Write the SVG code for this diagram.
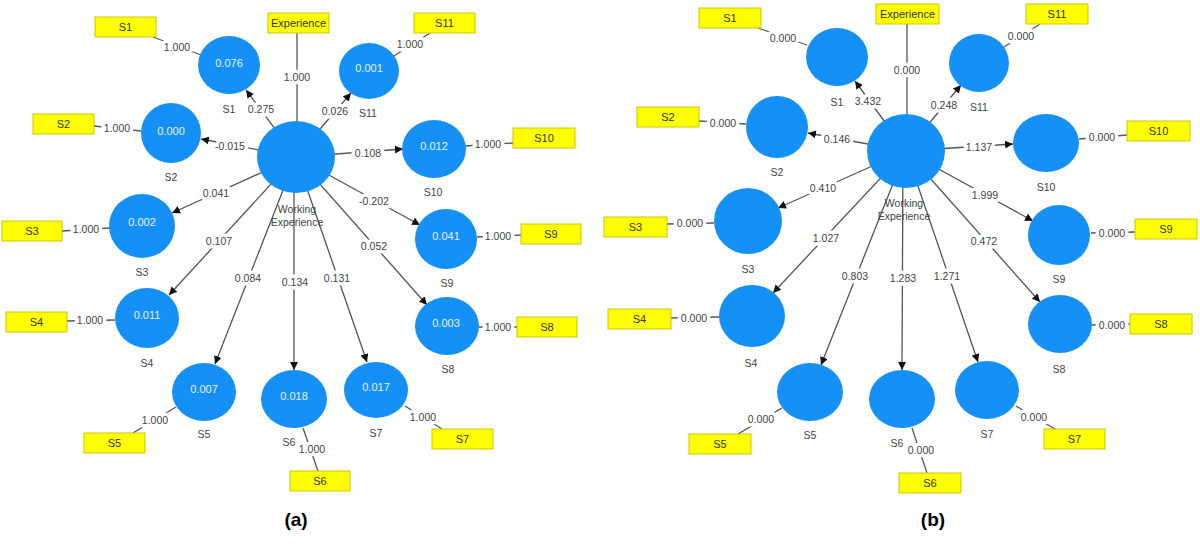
<svg xmlns="http://www.w3.org/2000/svg" width="1200" height="547" viewBox="0 0 1200 547">
<style>
.bx{fill:#ffff00;stroke:#c9c900;stroke-width:1}
.bt{font-family:"Liberation Sans",Arial,sans-serif;font-size:11px;fill:#333;text-anchor:middle;dominant-baseline:central}
.ci{fill:#1590f6}
.ct{font-family:"Liberation Sans",Arial,sans-serif;font-size:11px;fill:#e8f2ff;text-anchor:middle;dominant-baseline:central}
.nl{font-family:"Liberation Sans",Arial,sans-serif;font-size:10.5px;fill:#444;text-anchor:middle;dominant-baseline:central}
.ln{stroke:#555;stroke-width:1.3;fill:none}
.ar{stroke:#555;stroke-width:1.3;fill:none;marker-end:url(#ah)}
.lb{font-family:"Liberation Sans",Arial,sans-serif;font-size:10.5px;fill:#444;text-anchor:middle;dominant-baseline:central;stroke:#fff;stroke-width:7;stroke-linejoin:round;paint-order:stroke}
.cap{font-family:"Liberation Sans",Arial,sans-serif;font-size:19px;font-weight:bold;fill:#000;text-anchor:middle}
</style>
<defs>
<marker id="ah" viewBox="0 0 10 10" refX="10" refY="5" markerWidth="8" markerHeight="8" markerUnits="userSpaceOnUse" orient="auto">
<path d="M0,0 L10,5 L0,10 z" fill="#111"/>
</marker>
</defs>

<g id="connectors">
<!-- left: hub arrows -->
<line class="ar" x1="296" y1="157" x2="246" y2="90"/>
<line class="ar" x1="296" y1="157" x2="351" y2="93"/>
<line class="ar" x1="296" y1="157" x2="201" y2="139"/>
<line class="ar" x1="296" y1="157" x2="403" y2="149"/>
<line class="ar" x1="296" y1="157" x2="172" y2="213"/>
<line class="ar" x1="296" y1="157" x2="169" y2="295"/>
<line class="ar" x1="296" y1="157" x2="215" y2="364"/>
<line class="ar" x1="294" y1="157" x2="294" y2="370"/>
<line class="ar" x1="296" y1="157" x2="367" y2="362"/>
<line class="ar" x1="296" y1="157" x2="427" y2="305"/>
<line class="ar" x1="296" y1="157" x2="420" y2="225"/>
<!-- left: indicator lines -->
<line class="ln" x1="153" y1="37" x2="201" y2="55"/>
<line class="ln" x1="297" y1="33" x2="297" y2="122"/>
<line class="ln" x1="430" y1="33" x2="394" y2="56"/>
<line class="ln" x1="94" y1="126" x2="141" y2="131"/>
<line class="ln" x1="465" y1="146" x2="513" y2="143"/>
<line class="ln" x1="62" y1="231" x2="110" y2="228"/>
<line class="ln" x1="67" y1="321" x2="115" y2="320"/>
<line class="ln" x1="133" y1="433" x2="176" y2="407"/>
<line class="ln" x1="303" y1="428" x2="318" y2="471"/>
<line class="ln" x1="405" y1="406" x2="442" y2="429"/>
<line class="ln" x1="479" y1="327" x2="517" y2="327"/>
<line class="ln" x1="477" y1="237" x2="521" y2="235"/>
<!-- left labels -->
<text class="lb" x="261" y="109">0.275</text>
<text class="lb" x="335" y="111">0.026</text>
<text class="lb" x="230" y="146">-0.015</text>
<text class="lb" x="368" y="153">0.108</text>
<text class="lb" x="216" y="193">0.041</text>
<text class="lb" x="219" y="241">0.107</text>
<text class="lb" x="248" y="278">0.084</text>
<text class="lb" x="295" y="282">0.134</text>
<text class="lb" x="337" y="278">0.131</text>
<text class="lb" x="374" y="246">0.052</text>
<text class="lb" x="374" y="201">-0.202</text>
<text class="lb" x="177" y="47">1.000</text>
<text class="lb" x="297" y="77">1.000</text>
<text class="lb" x="410" y="44">1.000</text>
<text class="lb" x="117" y="128">1.000</text>
<text class="lb" x="488" y="144">1.000</text>
<text class="lb" x="86" y="229">1.000</text>
<text class="lb" x="90" y="320">1.000</text>
<text class="lb" x="155" y="420">1.000</text>
<text class="lb" x="312" y="449">1.000</text>
<text class="lb" x="423" y="417">1.000</text>
<text class="lb" x="498" y="327">1.000</text>
<text class="lb" x="498" y="236">1.000</text>

<!-- right: hub arrows -->
<line class="ar" x1="906" y1="151" x2="855" y2="81"/>
<line class="ar" x1="906" y1="151" x2="961" y2="85"/>
<line class="ar" x1="906" y1="151" x2="808" y2="133"/>
<line class="ar" x1="906" y1="151" x2="1013" y2="144"/>
<line class="ar" x1="906" y1="151" x2="778" y2="208"/>
<line class="ar" x1="906" y1="151" x2="773" y2="293"/>
<line class="ar" x1="906" y1="151" x2="821" y2="365"/>
<line class="ar" x1="903" y1="151" x2="902" y2="370"/>
<line class="ar" x1="906" y1="151" x2="978" y2="362"/>
<line class="ar" x1="906" y1="151" x2="1040" y2="302"/>
<line class="ar" x1="906" y1="151" x2="1033" y2="221"/>
<!-- right: indicator lines -->
<line class="ln" x1="758" y1="28" x2="807" y2="45"/>
<line class="ln" x1="907" y1="24" x2="907" y2="116"/>
<line class="ln" x1="1040" y1="24" x2="1004" y2="47"/>
<line class="ln" x1="699" y1="121" x2="746" y2="124"/>
<line class="ln" x1="1079" y1="139" x2="1127" y2="135"/>
<line class="ln" x1="667" y1="224" x2="714" y2="223"/>
<line class="ln" x1="671" y1="318" x2="719" y2="317"/>
<line class="ln" x1="738" y1="434" x2="782" y2="408"/>
<line class="ln" x1="912" y1="428" x2="927" y2="473"/>
<line class="ln" x1="1016" y1="406" x2="1055" y2="429"/>
<line class="ln" x1="1092" y1="325" x2="1130" y2="324"/>
<line class="ln" x1="1091" y1="233" x2="1135" y2="232"/>
<!-- right labels -->
<text class="lb" x="868" y="101">3.432</text>
<text class="lb" x="944" y="105">0.248</text>
<text class="lb" x="837" y="139">0.146</text>
<text class="lb" x="979" y="147">1.137</text>
<text class="lb" x="823" y="188">0.410</text>
<text class="lb" x="826" y="238">1.027</text>
<text class="lb" x="855" y="276">0.803</text>
<text class="lb" x="903" y="278">1.283</text>
<text class="lb" x="947" y="276">1.271</text>
<text class="lb" x="984" y="241">0.472</text>
<text class="lb" x="985" y="195">1.999</text>
<text class="lb" x="783" y="38">0.000</text>
<text class="lb" x="907" y="70">0.000</text>
<text class="lb" x="1021" y="36">0.000</text>
<text class="lb" x="723" y="123">0.000</text>
<text class="lb" x="1102" y="137">0.000</text>
<text class="lb" x="690" y="223">0.000</text>
<text class="lb" x="694" y="318">0.000</text>
<text class="lb" x="761" y="419">0.000</text>
<text class="lb" x="921" y="450">0.000</text>
<text class="lb" x="1034" y="417">0.000</text>
<text class="lb" x="1112" y="325">0.000</text>
<text class="lb" x="1112" y="233">0.000</text>
</g>

<!-- LEFT DIAGRAM (a) -->
<g id="a-hub"><ellipse class="ci" cx="296" cy="157" rx="39" ry="36"/><text class="nl" x="297" y="209">Working</text><text class="nl" x="297" y="222">Experience</text></g>
<g id="a-S1"><ellipse class="ci" cx="229" cy="65" rx="31" ry="29"/><text class="ct" x="229" y="63">0.076</text><text class="nl" x="229" y="109">S1</text></g>
<g id="a-S2"><ellipse class="ci" cx="171" cy="133" rx="30" ry="30"/><text class="ct" x="171" y="131">0.000</text><text class="nl" x="171" y="177">S2</text></g>
<g id="a-S3"><ellipse class="ci" cx="142" cy="226" rx="33" ry="32"/><text class="ct" x="142" y="222">0.002</text><text class="nl" x="142" y="272">S3</text></g>
<g id="a-S4"><ellipse class="ci" cx="147" cy="318" rx="32" ry="30"/><text class="ct" x="147" y="315">0.011</text><text class="nl" x="147" y="363">S4</text></g>
<g id="a-S5"><ellipse class="ci" cx="204" cy="392" rx="32" ry="29"/><text class="ct" x="204" y="389">0.007</text><text class="nl" x="204" y="434">S5</text></g>
<g id="a-S6"><ellipse class="ci" cx="294" cy="399" rx="33" ry="29"/><text class="ct" x="294" y="396">0.018</text><text class="nl" x="289" y="442">S6</text></g>
<g id="a-S7"><ellipse class="ci" cx="376" cy="390" rx="32" ry="28"/><text class="ct" x="376" y="387">0.017</text><text class="nl" x="376" y="433">S7</text></g>
<g id="a-S8"><ellipse class="ci" cx="447" cy="326" rx="32" ry="29"/><text class="ct" x="446" y="323">0.003</text><text class="nl" x="448" y="369">S8</text></g>
<g id="a-S9"><ellipse class="ci" cx="446" cy="239" rx="31" ry="30"/><text class="ct" x="446" y="236">0.041</text><text class="nl" x="447" y="283">S9</text></g>
<g id="a-S10"><ellipse class="ci" cx="434" cy="149" rx="32" ry="29"/><text class="ct" x="434" y="146">0.012</text><text class="nl" x="433" y="192">S10</text></g>
<g id="a-S11"><ellipse class="ci" cx="369" cy="71" rx="30" ry="28"/><text class="ct" x="369" y="68">0.001</text><text class="nl" x="368" y="113">S11</text></g>

<g id="a-box-Experience"><rect class="bx" x="268" y="13" width="61" height="20"/><text class="bt" x="298.5" y="23">Experience</text></g>
<g id="a-box-S1"><rect class="bx" x="95" y="17" width="61" height="20"/><text class="bt" x="125.5" y="27">S1</text></g>
<g id="a-box-S11"><rect class="bx" x="414" y="13" width="61" height="20"/><text class="bt" x="444.5" y="23">S11</text></g>
<g id="a-box-S2"><rect class="bx" x="33" y="114" width="61" height="20"/><text class="bt" x="63.5" y="124">S2</text></g>
<g id="a-box-S10"><rect class="bx" x="513" y="128" width="62" height="20"/><text class="bt" x="544" y="138">S10</text></g>
<g id="a-box-S3"><rect class="bx" x="2" y="221" width="60" height="20"/><text class="bt" x="32" y="231">S3</text></g>
<g id="a-box-S9"><rect class="bx" x="521" y="224" width="60" height="20"/><text class="bt" x="551" y="234">S9</text></g>
<g id="a-box-S4"><rect class="bx" x="6" y="312" width="61" height="20"/><text class="bt" x="36.5" y="322">S4</text></g>
<g id="a-box-S8"><rect class="bx" x="517" y="317" width="60" height="20"/><text class="bt" x="547" y="327">S8</text></g>
<g id="a-box-S5"><rect class="bx" x="84" y="433" width="61" height="20"/><text class="bt" x="114.5" y="443">S5</text></g>
<g id="a-box-S7"><rect class="bx" x="432" y="429" width="61" height="20"/><text class="bt" x="462.5" y="439">S7</text></g>
<g id="a-box-S6"><rect class="bx" x="290" y="471" width="60" height="20"/><text class="bt" x="320" y="481">S6</text></g>

<!-- RIGHT DIAGRAM (b) -->
<g id="b-hub"><ellipse class="ci" cx="906" cy="151" rx="39" ry="37"/><text class="nl" x="904" y="203">Working</text><text class="nl" x="904" y="216">Experience</text></g>
<g id="b-S1"><ellipse class="ci" cx="837" cy="57" rx="31" ry="29"/><text class="nl" x="837" y="102">S1</text></g>
<g id="b-S2"><ellipse class="ci" cx="777" cy="127" rx="31" ry="31"/><text class="nl" x="777" y="172">S2</text></g>
<g id="b-S3"><ellipse class="ci" cx="748" cy="221" rx="34" ry="33"/><text class="nl" x="748" y="269">S3</text></g>
<g id="b-S4"><ellipse class="ci" cx="752" cy="316" rx="33" ry="31"/><text class="nl" x="751" y="363">S4</text></g>
<g id="b-S5"><ellipse class="ci" cx="810" cy="392" rx="33" ry="29"/><text class="nl" x="810" y="435">S5</text></g>
<g id="b-S6"><ellipse class="ci" cx="902" cy="399" rx="33" ry="29"/><text class="nl" x="897" y="443">S6</text></g>
<g id="b-S7"><ellipse class="ci" cx="987" cy="390" rx="32" ry="29"/><text class="nl" x="987" y="434">S7</text></g>
<g id="b-S8"><ellipse class="ci" cx="1060" cy="324" rx="32" ry="29"/><text class="nl" x="1059" y="369">S8</text></g>
<g id="b-S9"><ellipse class="ci" cx="1059" cy="235" rx="31" ry="30"/><text class="nl" x="1059" y="279">S9</text></g>
<g id="b-S10"><ellipse class="ci" cx="1046" cy="143" rx="33" ry="29"/><text class="nl" x="1046" y="187">S10</text></g>
<g id="b-S11"><ellipse class="ci" cx="979" cy="63" rx="30" ry="29"/><text class="nl" x="979" y="107">S11</text></g>

<g id="b-box-Experience"><rect class="bx" x="876" y="4" width="63" height="20"/><text class="bt" x="907.5" y="14">Experience</text></g>
<g id="b-box-S1"><rect class="bx" x="699" y="8" width="62" height="20"/><text class="bt" x="730" y="18">S1</text></g>
<g id="b-box-S11"><rect class="bx" x="1026" y="4" width="62" height="20"/><text class="bt" x="1057" y="14">S11</text></g>
<g id="b-box-S2"><rect class="bx" x="637" y="107" width="62" height="20"/><text class="bt" x="668" y="117">S2</text></g>
<g id="b-box-S10"><rect class="bx" x="1127" y="121" width="63" height="20"/><text class="bt" x="1158.5" y="131">S10</text></g>
<g id="b-box-S3"><rect class="bx" x="604" y="217" width="63" height="20"/><text class="bt" x="635.5" y="227">S3</text></g>
<g id="b-box-S9"><rect class="bx" x="1135" y="219" width="62" height="20"/><text class="bt" x="1166" y="229">S9</text></g>
<g id="b-box-S4"><rect class="bx" x="608" y="309" width="63" height="20"/><text class="bt" x="639.5" y="319">S4</text></g>
<g id="b-box-S8"><rect class="bx" x="1130" y="314" width="62" height="20"/><text class="bt" x="1161" y="324">S8</text></g>
<g id="b-box-S5"><rect class="bx" x="689" y="434" width="62" height="20"/><text class="bt" x="720" y="444">S5</text></g>
<g id="b-box-S7"><rect class="bx" x="1044" y="429" width="61" height="20"/><text class="bt" x="1074.5" y="439">S7</text></g>
<g id="b-box-S6"><rect class="bx" x="899" y="473" width="62" height="20"/><text class="bt" x="930" y="483">S6</text></g>

<text class="cap" x="296" y="526">(a)</text>
<text class="cap" x="933" y="526">(b)</text>
</svg>
